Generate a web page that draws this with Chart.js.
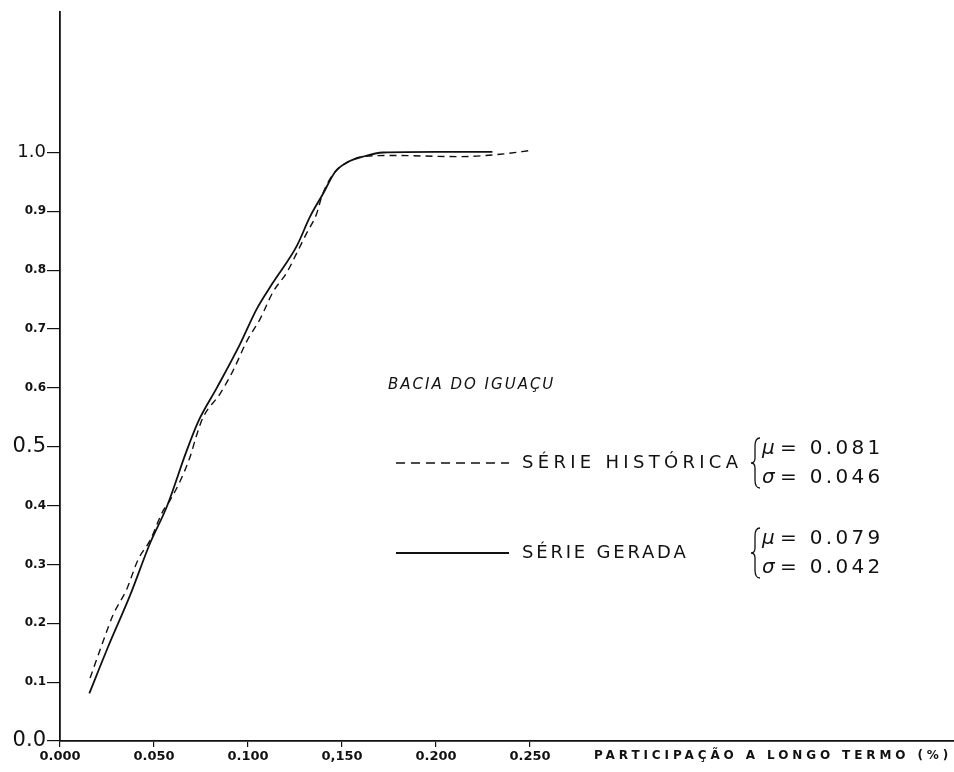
<!DOCTYPE html>
<html lang="pt">
<head>
<meta charset="utf-8">
<title>Bacia do Iguaçu – participação a longo termo</title>
<script src="https://cdn.jsdelivr.net/npm/chart.js@4/dist/chart.umd.min.js"></script>
<style>
  html, body { margin: 0; padding: 0; background: #ffffff; }
  canvas { display: block; }
</style>
</head>
<body>
<canvas id="chart" width="954" height="772"></canvas>
<script>
// Série histórica (tracejada): participação a longo termo x frequência acumulada
const historicX = [0.016, 0.0229, 0.0282, 0.0355, 0.0415, 0.0479, 0.0548, 0.0574, 0.0638, 0.0691, 0.0727, 0.0761,
  0.0851, 0.0920, 0.0993, 0.1064, 0.1133, 0.1206, 0.1259, 0.1312, 0.1365, 0.1392, 0.1452, 0.1527, 0.1612,
  0.1755, 0.2128, 0.234, 0.2516];
const historicY = [0.107, 0.169, 0.214, 0.258, 0.308, 0.341, 0.391, 0.403, 0.441, 0.482, 0.520, 0.550,
  0.590, 0.629, 0.679, 0.717, 0.763, 0.796, 0.829, 0.863, 0.896, 0.925, 0.963, 0.983, 0.993,
  0.995, 0.993, 0.997, 1.004];

// Série gerada (contínua)
const generatedX = [0.0156, 0.0257, 0.0372, 0.0479, 0.0568, 0.0670, 0.0734, 0.0834, 0.0957, 0.1046, 0.1133,
  0.1259, 0.1330, 0.1399, 0.1463, 0.1525, 0.1612, 0.1718, 0.200, 0.230];
const generatedY = [0.081, 0.161, 0.247, 0.336, 0.398, 0.490, 0.542, 0.600, 0.674, 0.734, 0.779,
  0.841, 0.891, 0.930, 0.967, 0.983, 0.993, 1.000, 1.001, 1.001];

// Eixos
const xTickValues = [0, 0.05, 0.10, 0.15, 0.20, 0.25];
const xTickLabels = ['0.000', '0.050', '0.100', '0,150', '0.200', '0.250'];
const yTickValues = [0, 0.1, 0.2, 0.3, 0.4, 0.5, 0.6, 0.7, 0.8, 0.9, 1.0];
const yTickLabels = ['0.0', '0.1', '0.2', '0.3', '0.4', '0.5', '0.6', '0.7', '0.8', '0.9', '1.0'];
const xAxisTitle = 'PARTICIPAÇÃO A LONGO TERMO (%)';

// Legenda e estatísticas
const basinTitle = 'BACIA DO IGUAÇU';
const seriesNames = ['SÉRIE HISTÓRICA', 'SÉRIE GERADA'];
const seriesMu = ['0.081', '0.079'];
const seriesSigma = ['0.046', '0.042'];

const FONT = '"DejaVu Sans", "Liberation Sans", sans-serif';
const INK = '#111111';

const toPoints = (xs, ys) => xs.map((x, i) => ({ x: x, y: ys[i] }));

const annotationPlugin = {
  id: 'annotations',
  afterDraw(chart) {
    const ctx = chart.ctx;
    ctx.save();
    ctx.fillStyle = INK;
    ctx.strokeStyle = INK;
    ctx.textBaseline = 'middle';
    ctx.textAlign = 'left';

    // título do eixo x, na linha dos rótulos
    ctx.font = 'bold 12px ' + FONT;
    ctx.letterSpacing = '3.9px';
    ctx.fillText(xAxisTitle, 594, 756);

    // título da bacia
    ctx.font = 'italic 15px ' + FONT;
    ctx.letterSpacing = '2px';
    ctx.fillText(basinTitle, 388, 385);

    const rows = [
      { y: 463, dash: [9, 6], lw: 1.4, spacing: '4.3px' },
      { y: 553, dash: [], lw: 1.8, spacing: '2.8px' }
    ];
    rows.forEach((r, i) => {
      // amostra do traço
      ctx.beginPath();
      ctx.setLineDash(r.dash);
      ctx.lineWidth = r.lw;
      ctx.moveTo(396, r.y);
      ctx.lineTo(509, r.y);
      ctx.stroke();
      ctx.setLineDash([]);

      ctx.font = '18px ' + FONT;
      ctx.letterSpacing = r.spacing;
      ctx.fillText(seriesNames[i], 522, r.y);

      // chave
      const bx = 755, top = r.y - 25, bot = r.y + 25, mid = r.y;
      ctx.beginPath();
      ctx.lineWidth = 1.3;
      ctx.moveTo(bx + 5, top);
      ctx.quadraticCurveTo(bx, top, bx, top + 8);
      ctx.lineTo(bx, mid - 5);
      ctx.quadraticCurveTo(bx, mid, bx - 4, mid);
      ctx.quadraticCurveTo(bx, mid, bx, mid + 5);
      ctx.lineTo(bx, bot - 8);
      ctx.quadraticCurveTo(bx, bot, bx + 5, bot);
      ctx.stroke();

      ctx.font = 'italic 20px ' + FONT;
      ctx.letterSpacing = '0px';
      ctx.fillText('μ', 762, r.y - 14);
      ctx.fillText('σ', 762, r.y + 15);
      ctx.font = '20px ' + FONT;
      ctx.letterSpacing = '3.3px';
      ctx.fillText('= ' + seriesMu[i], 780, r.y - 14);
      ctx.fillText('= ' + seriesSigma[i], 780, r.y + 15);
    });
    ctx.restore();
  }
};

new Chart(document.getElementById('chart'), {
  type: 'line',
  data: {
    datasets: [
      {
        label: seriesNames[0],
        data: toPoints(historicX, historicY),
        borderColor: INK,
        borderWidth: 1.4,
        borderDash: [7, 5],
        pointRadius: 0,
        cubicInterpolationMode: 'monotone',
        fill: false
      },
      {
        label: seriesNames[1],
        data: toPoints(generatedX, generatedY),
        borderColor: INK,
        borderWidth: 1.8,
        pointRadius: 0,
        cubicInterpolationMode: 'monotone',
        fill: false
      }
    ]
  },
  options: {
    responsive: false,
    animation: false,
    events: [],
    layout: { padding: 0 },
    plugins: {
      legend: { display: false },
      tooltip: { enabled: false },
      title: { display: false }
    },
    scales: {
      x: {
        type: 'linear',
        min: 0,
        max: 0.4755,
        afterBuildTicks: (s) => { s.ticks = xTickValues.map(v => ({ value: v })); },
        afterFit: (s) => { s.height = 31; },
        border: { display: true, color: INK, width: 1.8 },
        grid: { display: true, drawOnChartArea: false, drawTicks: true, tickLength: 6, color: INK, lineWidth: 1.2 },
        ticks: {
          autoSkip: false,
          maxRotation: 0,
          padding: 2,
          color: INK,
          font: { family: FONT, size: 13, weight: 'bold' },
          callback: (v, i) => xTickLabels[i]
        }
      },
      y: {
        type: 'linear',
        min: 0,
        max: 741 / 598,
        afterBuildTicks: (s) => { s.ticks = yTickValues.map(v => ({ value: v })); },
        afterFit: (s) => { s.width = 60; },
        border: { display: true, color: INK, width: 1.8 },
        grid: { display: true, drawOnChartArea: false, drawTicks: true, tickLength: 13, color: INK, lineWidth: 1.2 },
        ticks: {
          autoSkip: false,
          padding: 1,
          color: INK,
          font: (c) => {
            const v = c.tick ? Math.round(c.tick.value * 10) : 1;
            if (v === 0 || v === 5) return { family: FONT, size: 21 };
            if (v === 10) return { family: FONT, size: 18 };
            return { family: FONT, size: 12, weight: 'bold' };
          },
          callback: (v, i) => yTickLabels[i]
        }
      }
    }
  },
  plugins: [annotationPlugin]
});
</script>
</body>
</html>
